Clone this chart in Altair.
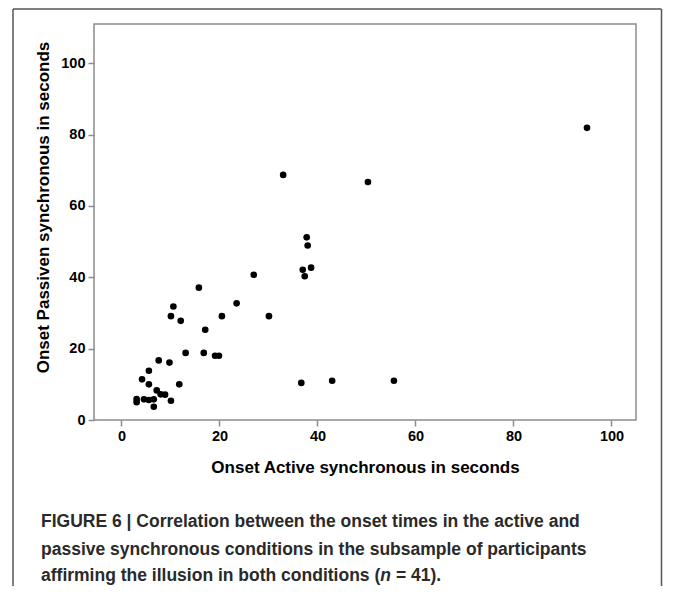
import altair as alt
import pandas as pd

# Data
active = [95.0, 33.0, 50.3, 37.8, 38.0, 37.0, 38.7, 37.4, 27.0, 30.1,
          36.7, 43.0, 55.6, 15.8, 10.6, 10.1, 12.1, 23.5, 20.5, 17.1,
          13.1, 16.8, 19.1, 19.9, 7.6, 9.8, 5.6, 4.2, 5.6, 11.8,
          7.2, 8.0, 8.9, 3.1, 3.1, 4.6, 5.6, 6.6, 10.1, 6.6]
passive = [81.9, 68.7, 66.7, 51.2, 48.9, 42.1, 42.7, 40.3, 40.7, 29.1,
           10.4, 11.0, 11.0, 37.1, 31.8, 29.1, 27.8, 32.7, 29.1, 25.3,
           18.8, 18.8, 18.0, 18.0, 16.7, 16.1, 13.8, 11.4, 10.0, 10.0,
           8.3, 7.2, 7.1, 5.9, 5.0, 5.8, 5.6, 5.8, 5.4, 3.7]
x_ticks = [0, 20, 40, 60, 80, 100]
y_ticks = [0, 20, 40, 60, 80, 100]
x_title = "Onset Active synchronous in seconds"
y_title = "Onset Passiven synchronous in seconds"
caption_line1 = "FIGURE 6 | Correlation between the onset times in the active and"
caption_line2 = "passive synchronous conditions in the subsample of participants"
caption_line3a = "affirming the illusion in both conditions ("
caption_line3b = "n"
caption_line3c = "= 41)."

FONT = "Liberation Sans, Arial, Helvetica, sans-serif"
CAP_SIZE = 17.5
W, H = 542, 396
LEFT, TOP, RIGHT, BOTTOM = 86, 16, 27, 166

df = pd.DataFrame({"active": active, "passive": passive})

points = alt.Chart(df).mark_circle(size=44, color="black", opacity=1).encode(
    x=alt.X("active:Q",
            scale=alt.Scale(domain=[-5.6, 105], nice=False, zero=False),
            axis=alt.Axis(values=x_ticks, title=x_title, titlePadding=17)),
    y=alt.Y("passive:Q",
            scale=alt.Scale(domain=[0, 111], nice=False, zero=False),
            axis=alt.Axis(values=y_ticks, title=y_title, titlePadding=8,
                          titleY=183)),
)

one = pd.DataFrame({"k": [0]})
rule_kw = dict(color="#555555", strokeWidth=1.5, clip=False)
x_left = -81
x_right = W + RIGHT - 1.5
frame_v = alt.Chart(one).mark_rule(**rule_kw).encode(
    x=alt.value(x_left), y=alt.value(-15), y2=alt.value(H + BOTTOM + 2))
frame_v2 = alt.Chart(one).mark_rule(**rule_kw).encode(
    x=alt.value(x_right), y=alt.value(-15), y2=alt.value(H + BOTTOM + 2))
frame_h = alt.Chart(one).mark_rule(**rule_kw).encode(
    x=alt.value(x_left), x2=alt.value(x_right), y=alt.value(-15))

text_kw = dict(align="left", baseline="middle", font=FONT, fontSize=CAP_SIZE,
               fontWeight="bold", color="#2a2a2a", clip=False)


def cap(txt, x, y, italic=False):
    kw = dict(text_kw)
    if italic:
        kw["fontStyle"] = "italic"
    return alt.Chart(one).mark_text(**kw).encode(
        x=alt.value(x), y=alt.value(y), text=alt.value(txt))


x0 = -53
em = CAP_SIZE / 1000.0
off_b = x0 + 19391 * em
off_c = off_b + (611 + 278) * em
captions = [
    cap(caption_line1, x0, 498),
    cap(caption_line2, x0, 526),
    cap(caption_line3a, x0, 552),
    cap(caption_line3b, off_b, 552, italic=True),
    cap(caption_line3c, off_c, 552),
]

chart = alt.layer(points, frame_v, frame_v2, frame_h, *captions).properties(
    width=W, height=H,
    autosize=alt.AutoSizeParams(type="none"),
    padding={"left": LEFT, "top": TOP, "right": RIGHT, "bottom": BOTTOM},
).configure_view(
    stroke="#8c8c8c", strokeWidth=1.5
).configure_axis(
    grid=False, domain=False,
    tickColor="#8c8c8c", tickSize=6, tickWidth=1.5,
    labelFont=FONT, labelFontSize=14.5, labelFontWeight="bold", labelColor="black",
    labelPadding=3,
    titleFont=FONT, titleFontSize=17, titleFontWeight="bold", titleColor="black",
)

chart.save("out.html", embed_options={"renderer": "svg", "actions": False})
